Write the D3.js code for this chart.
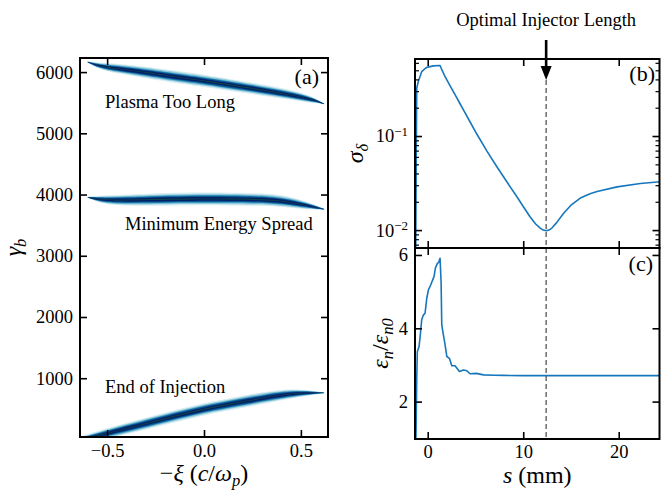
<!DOCTYPE html>
<html><head><meta charset="utf-8">
<script src="https://cdn.jsdelivr.net/npm/d3@7"></script>
<style>
body{margin:0;background:#fff}
svg{display:block}
text{font-family:"Liberation Serif","Times New Roman",serif;fill:#000}
</style>
</head><body>
<svg id="chart" width="661" height="490"></svg>
<script>
// ---------------- data ----------------
const xiTicks = [-0.5, 0.0, 0.5];
const gammaTicks = [1000, 2000, 3000, 4000, 5000, 6000];
const bandLabels = ["Plasma Too Long", "Minimum Energy Spread", "End of Injection"];

// beam phase-space bands (centre line and half thickness)
const band1Xi    = [-0.60, -0.54, -0.45, -0.30, -0.10, 0.00, 0.22, 0.43, 0.53, 0.58, 0.62];
const band1Gamma = [6165, 6095, 6060, 5995, 5900, 5858, 5748, 5640, 5572, 5530, 5480];
const band1Half  = [8, 55, 80, 95, 100, 100, 95, 85, 65, 35, 6];

const band2Xi    = [-0.60, -0.55, -0.47, -0.30, -0.07, 0.13, 0.36, 0.46, 0.55, 0.62];
const band2Gamma = [3955, 3925, 3905, 3915, 3930, 3928, 3915, 3865, 3810, 3760];
const band2Half  = [8, 50, 85, 100, 105, 105, 100, 85, 55, 6];

const band3Xi    = [-0.62, -0.50, -0.38, -0.20, 0.00, 0.20, 0.32, 0.42, 0.50, 0.56, 0.62];
const band3Gamma = [5, 98, 194, 340, 500, 615, 685, 735, 755, 762, 760];
const band3Half  = [60, 85, 95, 100, 100, 100, 95, 85, 60, 35, 5];

// density levels (fraction of half thickness) -> colour (ocean_r like)
const densityLevels = [1.0, 0.8, 0.62, 0.48, 0.3, 0.07];
const densityColors = ["#d6edf3", "#92c9dc", "#3d9cc0", "#0a5a96", "#031f6a", "#0d4b40"];

// panel (b): energy spread vs s
const sB = [-1.26, -1.2, -1.15, -0.99, -0.63, -0.30, -0.10, 0.59, 1.29, 1.5, 1.82, 2.3, 2.86, 3.4, 3.84, 4.44, 5.14, 6.2, 7.24, 8.3, 9.34, 10.0, 10.73, 11.3, 11.78, 12.1, 12.41, 12.7, 13.0, 13.5, 14.23, 15.0, 15.98, 17.0, 17.73, 19.83, 22.27, 24.3];
const sigmaB = [0.0050, 0.0631, 0.324, 0.380, 0.483, 0.519, 0.537, 0.557, 0.562, 0.501, 0.427, 0.347, 0.275, 0.219, 0.182, 0.141, 0.105, 0.0692, 0.0471, 0.0324, 0.0226, 0.0178, 0.0138, 0.0116, 0.0105, 0.0100, 0.00984, 0.0100, 0.0105, 0.0120, 0.0151, 0.0184, 0.0219, 0.0243, 0.0257, 0.0288, 0.0313, 0.0327];

// panel (c): emittance growth vs s
const sC = [-1.25, -1.23, -1.15, -1.09, -0.91, -0.81, -0.63, -0.46, -0.28, -0.10, 0.07, 0.31, 0.52, 0.66, 0.80, 1.01, 1.15, 1.29, 1.40, 1.47, 1.64, 1.82, 2.0, 2.27, 2.52, 2.86, 3.32, 3.74, 4.1, 4.44, 5.1, 5.84, 7, 8, 10, 15, 20, 24.3];
const emitC = [0.98, 1.05, 2.64, 3.36, 3.5, 3.73, 4.23, 4.36, 4.41, 4.82, 5.05, 5.18, 5.32, 5.41, 5.64, 5.77, 5.80, 5.91, 5.27, 4.09, 3.82, 3.55, 3.23, 3.18, 2.98, 2.98, 2.82, 2.86, 2.84, 2.76, 2.77, 2.73, 2.72, 2.715, 2.71, 2.71, 2.71, 2.71];

const sTicks = [0, 10, 20];
const sigmaTicks = [0.01, 0.1];
const sigmaTickLabels = ["\u22122", "\u22121"];
const emitTicks = [2, 4, 6];
const optimalS = 12.4;
const annotation = "Optimal Injector Length";

// ---------------- layout ----------------
const svg = d3.select("#chart");
const A = {l: 80, r: 328, t: 58, b: 437};
const B = {l: 415, r: 659.5, t: 59, b: 248};
const C = {l: 415, r: 659.5, t: 248, b: 439};
const fs = 18.5;
const lineBlue = "#1777bd";

const xA = d3.scaleLinear().domain([-0.64, 0.64]).range([A.l, A.r]);
const yA = d3.scaleLinear().domain([40, 6230]).range([A.b, A.t]);
const xS = d3.scaleLinear().domain([-1.333, 24.27]).range([B.l, B.r]);
const yB = d3.scaleLog().domain([0.00645, 0.659]).range([B.b, B.t]);
const yC = d3.scaleLinear().domain([0.98, 6.19]).range([C.b, C.t]);

const defs = svg.append("defs");
function clip(id, P){
  defs.append("clipPath").attr("id", id).append("rect")
    .attr("x", P.l).attr("y", P.t).attr("width", P.r - P.l).attr("height", P.b - P.t);
}
clip("clipA", A); clip("clipB", B); clip("clipC", C);

// ---------------- panel (a) ----------------
const gA = svg.append("g").attr("clip-path", "url(#clipA)");
const bands = [
  {xi: band1Xi, g: band1Gamma, h: band1Half},
  {xi: band2Xi, g: band2Gamma, h: band2Half},
  {xi: band3Xi, g: band3Gamma, h: band3Half}
];
bands.forEach(bd => {
  const pts = bd.xi.map((x, i) => ({x, c: bd.g[i], h: bd.h[i]}));
  densityLevels.forEach((f, k) => {
    const area = d3.area()
      .x(d => xA(d.x))
      .y0(d => yA(d.c - f * d.h))
      .y1(d => yA(d.c + f * d.h))
      .curve(d3.curveBasis);
    gA.append("path").datum(pts).attr("d", area).attr("fill", densityColors[k]);
  });
});

function styleAxis(g, w){
  g.select(".domain").remove();
  g.selectAll(".tick line").attr("stroke", "#000").attr("stroke-width", w || 1.6);
  g.selectAll(".tick text").attr("font-size", fs).attr("fill", "#000")
   .attr("font-family", '"Liberation Serif","Times New Roman",serif');
}
const minusFmt = d => d3.format(".1f")(d).replace("-", "\u2212");

styleAxis(svg.append("g").attr("transform", `translate(0,${A.b})`)
  .call(d3.axisBottom(xA).tickValues(xiTicks).tickSize(-7).tickPadding(7).tickFormat(minusFmt)));
styleAxis(svg.append("g").attr("transform", `translate(0,${A.t})`)
  .call(d3.axisTop(xA).tickValues(xiTicks).tickSize(-7).tickFormat("")));
styleAxis(svg.append("g").attr("transform", `translate(${A.l},0)`)
  .call(d3.axisLeft(yA).tickValues(gammaTicks).tickSize(-7).tickPadding(7).tickFormat(d3.format("d"))));
styleAxis(svg.append("g").attr("transform", `translate(${A.r},0)`)
  .call(d3.axisRight(yA).tickValues(gammaTicks).tickSize(-7).tickFormat("")));

svg.append("text").attr("x", 105).attr("y", 108).attr("font-size", fs).text(bandLabels[0]);
svg.append("text").attr("x", 125).attr("y", 229.5).attr("font-size", fs).text(bandLabels[1]);
svg.append("text").attr("x", 105).attr("y", 392.5).attr("font-size", fs).text(bandLabels[2]);
svg.append("text").attr("x", 319).attr("y", 84).attr("font-size", 22).attr("text-anchor", "end").text("(a)");

// ---------------- panel (b) ----------------
const gB = svg.append("g").attr("clip-path", "url(#clipB)");
const lineB = d3.line().x((d, i) => xS(sB[i])).y(d => yB(d));
gB.append("path").datum(sigmaB).attr("d", lineB).attr("fill", "none")
  .attr("stroke", lineBlue).attr("stroke-width", 1.6).attr("stroke-linejoin", "round");

const minorB = [];
[0.001, 0.01, 0.1].forEach(dec => { for (let k = 2; k <= 9; k++) { const v = dec * k; if (v > yB.domain()[0] && v < yB.domain()[1]) minorB.push(v); } });

function logLabels(g){
  g.selectAll(".tick text").each(function(d){
    const t = d3.select(this); t.text("");
    const i = sigmaTicks.indexOf(d);
    t.append("tspan").text("10");
    t.append("tspan").attr("dy", "-0.5em").attr("font-size", 13).text(sigmaTickLabels[i]);
  });
}
const axBL = svg.append("g").attr("transform", `translate(${B.l},0)`)
  .call(d3.axisLeft(yB).tickValues(sigmaTicks).tickSize(-7).tickPadding(7).tickFormat(d => "10"));
styleAxis(axBL); logLabels(axBL);
styleAxis(svg.append("g").attr("transform", `translate(${B.l},0)`)
  .call(d3.axisLeft(yB).tickValues(minorB).tickSize(-4).tickFormat("")), 1.2);
styleAxis(svg.append("g").attr("transform", `translate(${B.r},0)`)
  .call(d3.axisRight(yB).tickValues(sigmaTicks).tickSize(-7).tickFormat("")));
styleAxis(svg.append("g").attr("transform", `translate(${B.r},0)`)
  .call(d3.axisRight(yB).tickValues(minorB).tickSize(-4).tickFormat("")), 1.2);
styleAxis(svg.append("g").attr("transform", `translate(0,${B.t})`)
  .call(d3.axisTop(xS).tickValues(sTicks).tickSize(-7).tickFormat("")));
styleAxis(svg.append("g").attr("transform", `translate(0,${B.b})`)
  .call(d3.axisBottom(xS).tickValues(sTicks).tickSize(-7).tickFormat("")));
svg.append("text").attr("x", 655).attr("y", 81).attr("font-size", 22).attr("text-anchor", "end").text("(b)");

// ---------------- panel (c) ----------------
const gC = svg.append("g").attr("clip-path", "url(#clipC)");
const lineC = d3.line().x((d, i) => xS(sC[i])).y(d => yC(d));
gC.append("path").datum(emitC).attr("d", lineC).attr("fill", "none")
  .attr("stroke", lineBlue).attr("stroke-width", 1.6).attr("stroke-linejoin", "round");

styleAxis(svg.append("g").attr("transform", `translate(0,${C.b})`)
  .call(d3.axisBottom(xS).tickValues(sTicks).tickSize(-7).tickPadding(6).tickFormat(d3.format("d"))));
styleAxis(svg.append("g").attr("transform", `translate(0,${C.t})`)
  .call(d3.axisTop(xS).tickValues(sTicks).tickSize(-7).tickFormat("")));
styleAxis(svg.append("g").attr("transform", `translate(${C.l},0)`)
  .call(d3.axisLeft(yC).tickValues(emitTicks).tickSize(-7).tickPadding(7).tickFormat(d3.format("d"))));
styleAxis(svg.append("g").attr("transform", `translate(${C.r},0)`)
  .call(d3.axisRight(yC).tickValues(emitTicks).tickSize(-7).tickFormat("")));
svg.append("text").attr("x", 653).attr("y", 271).attr("font-size", 22).attr("text-anchor", "end").text("(c)");

// optimal length marker
const xo = xS(optimalS);
svg.append("line").attr("x1", xo).attr("x2", xo).attr("y1", 80).attr("y2", C.b)
  .attr("stroke", "#555").attr("stroke-width", 1.3).attr("stroke-dasharray", "5,3");
svg.append("line").attr("x1", xo).attr("x2", xo).attr("y1", 40).attr("y2", 68)
  .attr("stroke", "#000").attr("stroke-width", 2.6);
svg.append("path").attr("d", `M${xo - 5.5},66 L${xo + 5.5},66 L${xo},80 Z`).attr("fill", "#000");
svg.append("text").attr("x", xo).attr("y", 26).attr("font-size", fs).attr("text-anchor", "middle").text(annotation);

// frames
[A, B, C].forEach(P => {
  svg.append("rect").attr("x", P.l).attr("y", P.t).attr("width", P.r - P.l).attr("height", P.b - P.t)
    .attr("fill", "none").attr("stroke", "#000").attr("stroke-width", 2);
});

// ---------------- axis labels ----------------
function label(x, y, rot, parts){
  const t = svg.append("text").attr("transform", `translate(${x},${y}) rotate(${rot})`)
    .attr("text-anchor", "middle").attr("font-size", 24);
  parts.forEach(p => {
    const s = t.append("tspan").text(p.t);
    if (p.i) s.attr("font-style", "italic");
    if (p.sub) s.attr("font-size", 16.5).attr("dy", p.dy || "0.3em");
    if (p.up) s.attr("dy", p.up);
  });
  return t;
}
label(21, (A.t + A.b) / 2, -90, [{t: "\u03b3", i: 1}, {t: "b", i: 1, sub: 1}]);
label((A.l + A.r) / 2, 481, 0, [
  {t: "\u2212"}, {t: "\u03be", i: 1}, {t: " ("}, {t: "c", i: 1}, {t: "/"}, {t: "\u03c9", i: 1},
  {t: "p", i: 1, sub: 1}, {t: ")", up: "-0.2em"}
]);
label(363, (B.t + B.b) / 2, -90, [{t: "\u03c3", i: 1}, {t: "\u03b4", i: 1, sub: 1}]);
label(388, (C.t + C.b) / 2, -90, [
  {t: "\u03b5", i: 1}, {t: "n", i: 1, sub: 1}, {t: "/", up: "-0.2em"}, {t: "\u03b5", i: 1}, {t: "n0", i: 1, sub: 1}
]);
label((B.l + B.r) / 2, 483, 0, [{t: "s", i: 1}, {t: " (mm)"}]);
</script>
</body></html>
